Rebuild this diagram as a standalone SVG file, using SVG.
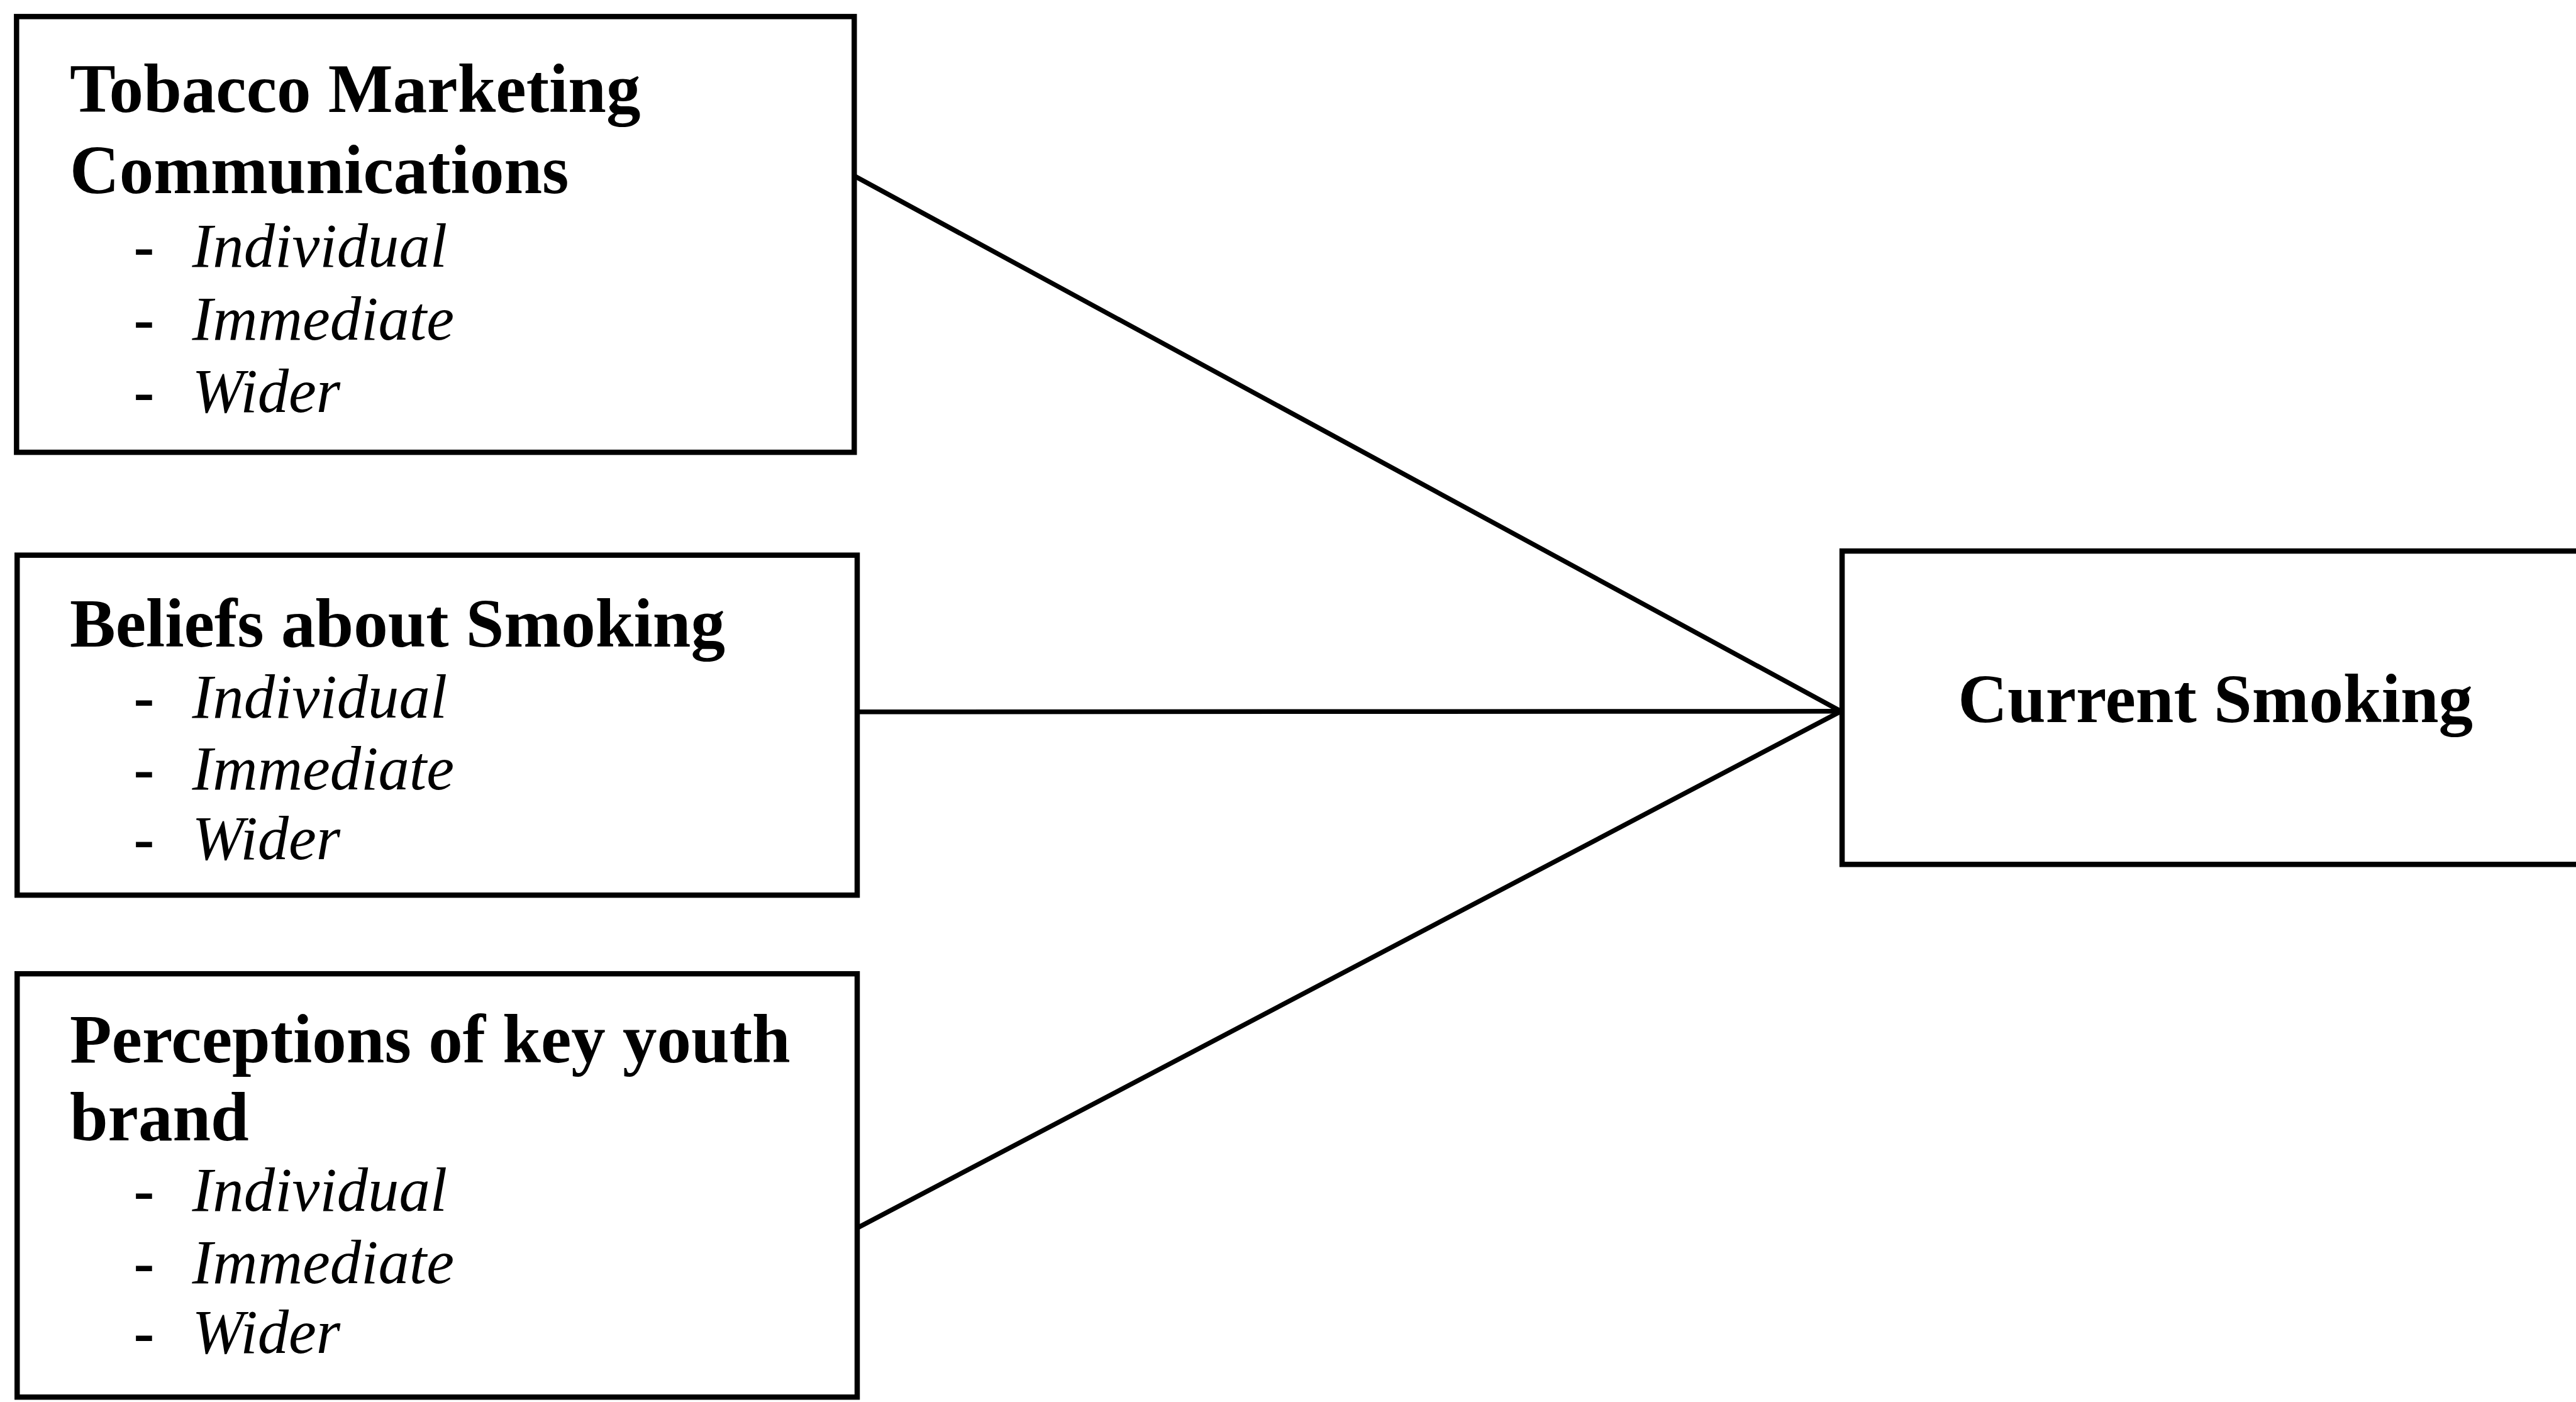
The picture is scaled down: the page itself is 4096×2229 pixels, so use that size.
<svg xmlns="http://www.w3.org/2000/svg" width="4096" height="2229" viewBox="0 0 4096 2229">
<style>
.box{fill:#fff;stroke:#000;stroke-width:9}
.conn{stroke:#000;stroke-width:8;fill:none}
.h{font-family:"Liberation Serif","Times New Roman",serif;font-weight:bold;font-size:116px;fill:#000}
.i{font-family:"Liberation Serif","Times New Roman",serif;font-style:italic;font-size:105px;fill:#000}
.d{font-family:"Liberation Serif","Times New Roman",serif;font-weight:bold;font-size:105px;fill:#000}
</style>
<rect width="4096" height="2229" fill="#fff"/>
<g transform="scale(0.94)">
<g id="connectors">
<line class="conn" x1="1446" y1="298" x2="3114" y2="1203"/>
<line class="conn" x1="1450" y1="1204" x2="3114" y2="1203"/>
<line class="conn" x1="1452" y1="2076" x2="3114" y2="1203"/>
</g>
<g id="node-tobacco">
<rect class="box" x="28" y="28" width="1417" height="737"/>
<text class="h" x="118" y="189">Tobacco Marketing</text>
<text class="h" x="118" y="327">Communications</text>
<text class="d" x="226" y="451">-</text><text class="i" x="325" y="451">Individual</text>
<text class="d" x="226" y="574">-</text><text class="i" x="325" y="574">Immediate</text>
<text class="d" x="226" y="697">-</text><text class="i" x="325" y="697">Wider</text>
</g>
<g id="node-beliefs">
<rect class="box" x="29" y="939" width="1421" height="575"/>
<text class="h" x="118" y="1094">Beliefs about Smoking</text>
<text class="d" x="226" y="1214">-</text><text class="i" x="325" y="1214">Individual</text>
<text class="d" x="226" y="1335">-</text><text class="i" x="325" y="1335">Immediate</text>
<text class="d" x="226" y="1453">-</text><text class="i" x="325" y="1453">Wider</text>
</g>
<g id="node-perceptions">
<rect class="box" x="29" y="1647" width="1421" height="716"/>
<text class="h" x="118" y="1797">Perceptions of key youth</text>
<text class="h" x="118" y="1929">brand</text>
<text class="d" x="226" y="2048">-</text><text class="i" x="325" y="2048">Individual</text>
<text class="d" x="226" y="2170">-</text><text class="i" x="325" y="2170">Immediate</text>
<text class="d" x="226" y="2288">-</text><text class="i" x="325" y="2288">Wider</text>
</g>
<g id="node-current">
<rect class="box" x="3116" y="932" width="1300" height="530"/>
<text class="h" x="3312" y="1221">Current Smoking</text>
</g>
</g>
</svg>
